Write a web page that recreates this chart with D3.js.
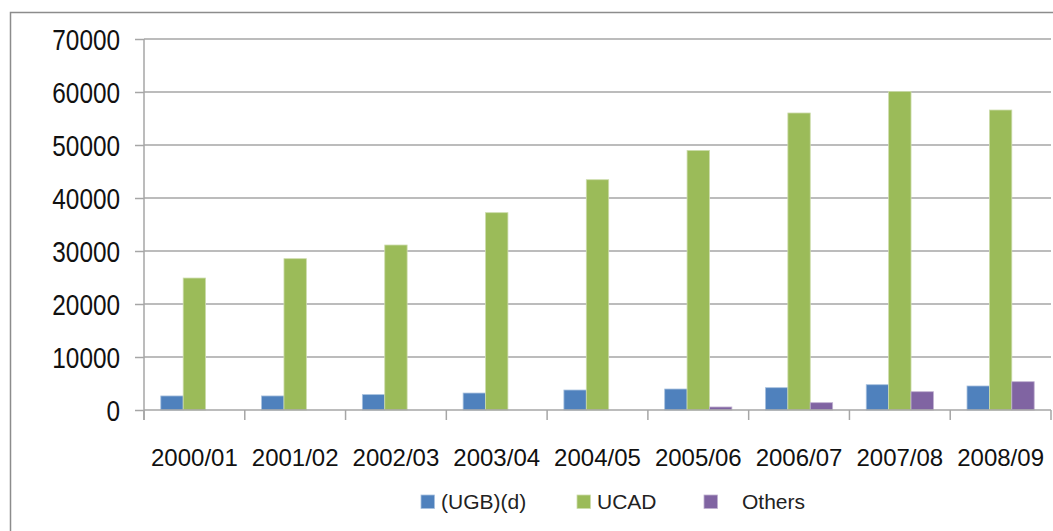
<!DOCTYPE html>
<html>
<head>
<meta charset="utf-8">
<script src="https://cdn.jsdelivr.net/npm/d3@7"></script>
<style>
  html, body { margin: 0; padding: 0; background: #fff; }
  svg { display: block; }
</style>
</head>
<body>
<svg id="chart" width="1053" height="531"></svg>
<script>
const categories = ["2000/01","2001/02","2002/03","2003/04","2004/05","2005/06","2006/07","2007/08","2008/09"];
const seriesNames = ["(UGB)(d)", "UCAD", "Others"];
const ugb    = [2650, 2650, 2900, 3200, 3770, 3960, 4210, 4770, 4530];
const ucad   = [24900, 28550, 31130, 37230, 43450, 48980, 56040, 60100, 56600];
const others = [0, 0, 0, 0, 0, 570, 1380, 3450, 5340];
const yTicks = [0, 10000, 20000, 30000, 40000, 50000, 60000, 70000];
const colors = ["#4F81BD", "#9BBB59", "#8064A2"];
const strokes = ["#a7c0de", "#cddcac", "#bfb1d0"];

const seriesValues = [ugb, ucad, others];

const svg = d3.select("#chart");

// outer chart border (cut off at right and bottom)
svg.append("rect")
  .attr("x", 10.5).attr("y", 12.5)
  .attr("width", 1100).attr("height", 600)
  .attr("fill", "none").attr("stroke", "#8c8c8c").attr("stroke-width", 1.5);

const plotLeft = 144, plotRight = 1051, plotTop = 39, plotBottom = 410;

const x = d3.scaleBand().domain(categories).range([plotLeft, plotRight]).paddingInner(0).paddingOuter(0);
const xs = d3.scaleBand().domain(seriesNames).range([0, x.bandwidth()]).paddingInner(0).paddingOuter(0.75);
const y = d3.scaleLinear().domain([0, 70000]).range([plotBottom, plotTop]);

// left ticks + labels
const yAxis = d3.axisLeft(y).tickValues(yTicks).tickSize(9).tickFormat(d3.format("d"));
const gy = svg.append("g").attr("transform", `translate(${plotLeft},0)`).call(yAxis);
gy.select(".domain").remove();
gy.selectAll(".tick line").attr("stroke", "#a6a6a6").attr("stroke-width", 1.5);
const sx = 0.84;
gy.selectAll(".tick text")
  .attr("fill", "#111")
  .attr("text-anchor", "end")
  .attr("x", -24 / sx)
  .attr("transform", `scale(${sx},1)`)
  .style("font-family", "'Liberation Sans', Arial, sans-serif")
  .style("font-size", "29px")
  .attr("dy", "0.36em");

// horizontal gridlines
svg.append("g").selectAll("line").data(yTicks.filter(d => d > 0)).join("line")
  .attr("x1", plotLeft).attr("x2", plotRight)
  .attr("y1", d => y(d)).attr("y2", d => y(d))
  .attr("stroke", "#a6a6a6").attr("stroke-width", 1.5);

// y axis line
svg.append("line")
  .attr("x1", plotLeft).attr("x2", plotLeft)
  .attr("y1", plotTop).attr("y2", plotBottom + 10)
  .attr("stroke", "#a6a6a6").attr("stroke-width", 1.5);

// bars
const groups = svg.append("g").selectAll("g").data(categories).join("g")
  .attr("transform", d => `translate(${x(d)},0)`);
groups.selectAll("rect")
  .data((c, i) => seriesNames.map((s, j) => ({s, j, v: seriesValues[j][i]})).filter(d => d.v > 0))
  .join("rect")
  .attr("x", d => xs(d.s))
  .attr("width", xs.bandwidth())
  .attr("y", d => y(d.v))
  .attr("height", d => y(0) - y(d.v))
  .attr("fill", d => colors[d.j])
  .attr("stroke", d => strokes[d.j])
  .attr("stroke-width", 0.8);

// x axis line + category boundary ticks
svg.append("line")
  .attr("x1", plotLeft).attr("x2", plotRight)
  .attr("y1", plotBottom).attr("y2", plotBottom)
  .attr("stroke", "#a6a6a6").attr("stroke-width", 1.5);
const boundaries = categories.map(c => x(c)).concat([x(categories[categories.length - 1]) + x.bandwidth()]);
svg.append("g").selectAll("line").data(boundaries).join("line")
  .attr("x1", d => d).attr("x2", d => d)
  .attr("y1", plotBottom).attr("y2", plotBottom + 10)
  .attr("stroke", "#a6a6a6").attr("stroke-width", 1.5);

// category labels
svg.append("g").selectAll("text").data(categories).join("text")
  .attr("x", d => x(d) + x.bandwidth() / 2)
  .attr("y", 466)
  .attr("text-anchor", "middle")
  .attr("fill", "#111")
  .style("font-family", "'Liberation Sans', Arial, sans-serif")
  .style("font-size", "24px")
  .text(d => d);

// legend
const legendSquareX = [421, 577, 704];
const legendTextX = [441, 597, 742];
const lg = svg.append("g");
seriesNames.forEach((s, j) => {
  lg.append("rect").attr("x", legendSquareX[j]).attr("y", 495).attr("width", 13.5).attr("height", 13.5)
    .attr("fill", colors[j]).attr("stroke", strokes[j]).attr("stroke-width", 0.8);
  lg.append("text").attr("x", legendTextX[j]).attr("y", 508.5)
    .attr("fill", "#222")
    .style("font-family", "'Liberation Sans', Arial, sans-serif")
    .style("font-size", "21px")
    .text(s);
});
</script>
</body>
</html>
